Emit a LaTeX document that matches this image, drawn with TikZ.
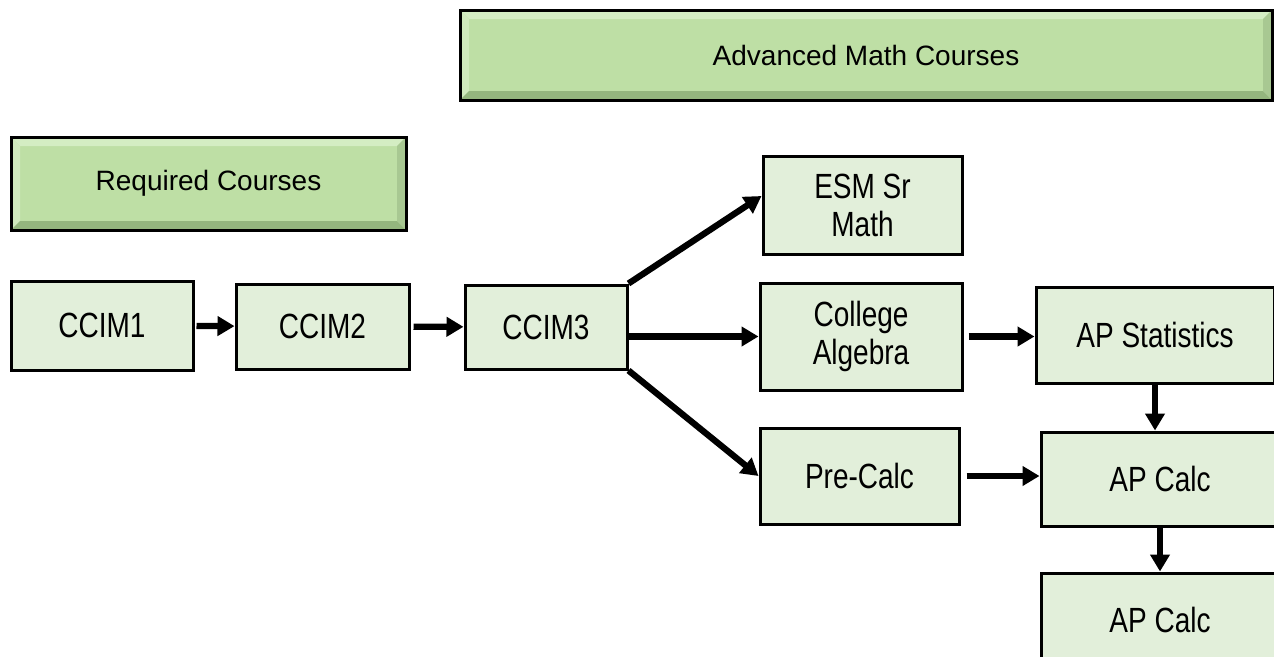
\documentclass[tikz,border=0pt]{standalone}
\usepackage{fontspec}
\setmainfont{Liberation Sans}
\newfontfamily\narrowfont[FakeStretch=0.8]{Liberation Sans}
\usetikzlibrary{arrows.meta,shadows}
\definecolor{boxgreen}{RGB}{226,239,218}
\definecolor{hdrgreen}{RGB}{190,223,165}
\definecolor{hdrlight}{RGB}{212,237,195}
\definecolor{hdrdark}{RGB}{148,182,126}
\definecolor{hdrmid}{RGB}{168,200,146}

\begin{document}
\begin{tikzpicture}[x=1pt,y=-1pt,
    course/.style={draw, line width=3pt, fill=boxgreen, inner sep=0pt, align=center,
        font=\narrowfont\fontsize{35}{38}\selectfont},
    header/.style={draw, line width=3pt, fill=hdrgreen, inner sep=0pt,
        font=\fontsize{28}{32}\selectfont,
        drop shadow={shadow xshift=1pt, shadow yshift=-2pt, opacity=0.4},
        path picture={
            \fill[hdrlight] (path picture bounding box.north west) -- ++(9pt,-9pt)
                -- ([xshift=-9pt,yshift=-9pt]path picture bounding box.north east)
                -- (path picture bounding box.north east) -- cycle;
            \fill[hdrlight!80!hdrgreen] (path picture bounding box.north west) -- ++(9pt,-9pt)
                -- ([xshift=9pt,yshift=9pt]path picture bounding box.south west)
                -- (path picture bounding box.south west) -- cycle;
            \fill[hdrdark] (path picture bounding box.south west) -- ++(9pt,9pt)
                -- ([xshift=-9pt,yshift=9pt]path picture bounding box.south east)
                -- (path picture bounding box.south east) -- cycle;
            \fill[hdrmid] (path picture bounding box.north east) -- ++(-9pt,-9pt)
                -- ([xshift=-9pt,yshift=9pt]path picture bounding box.south east)
                -- (path picture bounding box.south east) -- cycle;
        }},
    flow/.style={line width=6.3pt, -{Triangle[length=17pt,width=19pt]}}]
    \useasboundingbox (0,0) rectangle (1274,656);
    \clip (0,0) rectangle (1274,656);

    % headers
    \node[header, minimum width=812pt, minimum height=90pt] (advhdr) at (866,55) {Advanced Math Courses};
    \node[header, minimum width=395pt, minimum height=93pt] (reqhdr) at (208.5,183.5) {Required Courses};

    % required
    \node[course, minimum width=182pt, minimum height=89pt] (ccim1) at (102,325.5) {CCIM1};
    \node[course, minimum width=173pt, minimum height=85pt] (ccim2) at (322.5,326.5) {CCIM2};
    \node[course, minimum width=162pt, minimum height=84pt] (ccim3) at (546,327) {CCIM3};

    % advanced
    \node[course, minimum width=199pt, minimum height=98pt] (esm) at (862.5,205) {ESM Sr\\Math};
    \node[course, minimum width=202pt, minimum height=107pt] (college) at (861,336.5) {College\\Algebra};
    \node[course, minimum width=199pt, minimum height=96pt] (precalc) at (859.5,476) {Pre-Calc};
    \node[course, minimum width=238pt, minimum height=96pt] (apstat) at (1155,335) {AP Statistics};
    \node[course, minimum width=238pt, minimum height=94pt] (apcalc) at (1160,479) {AP Calc};
    \node[course, minimum width=238pt, minimum height=94pt] (apcalcb) at (1160,620) {AP Calc};

    \draw[flow, shorten <=2pt] (ccim1) -- (ccim2);
    \draw[flow, shorten <=3pt] (ccim2) -- (ccim3);
    \draw[flow] (ccim3.north east) -- ([yshift=9pt]esm.west);
    \draw[flow] (ccim3.east |- college.west) -- (college.west);
    \draw[flow] (ccim3.south east) -- (precalc.west);
    \draw[flow, shorten <=5pt] (college.east) -- (college.east -| apstat.west);
    \draw[flow, shorten <=6pt] (precalc.east) -- (precalc.east -| apcalc.west);
    \draw[flow] (apstat.south) -- (apstat.south |- apcalc.north);
    \draw[flow] (apcalc.south) -- (apcalc.south |- apcalcb.north);
\end{tikzpicture}
\end{document}
